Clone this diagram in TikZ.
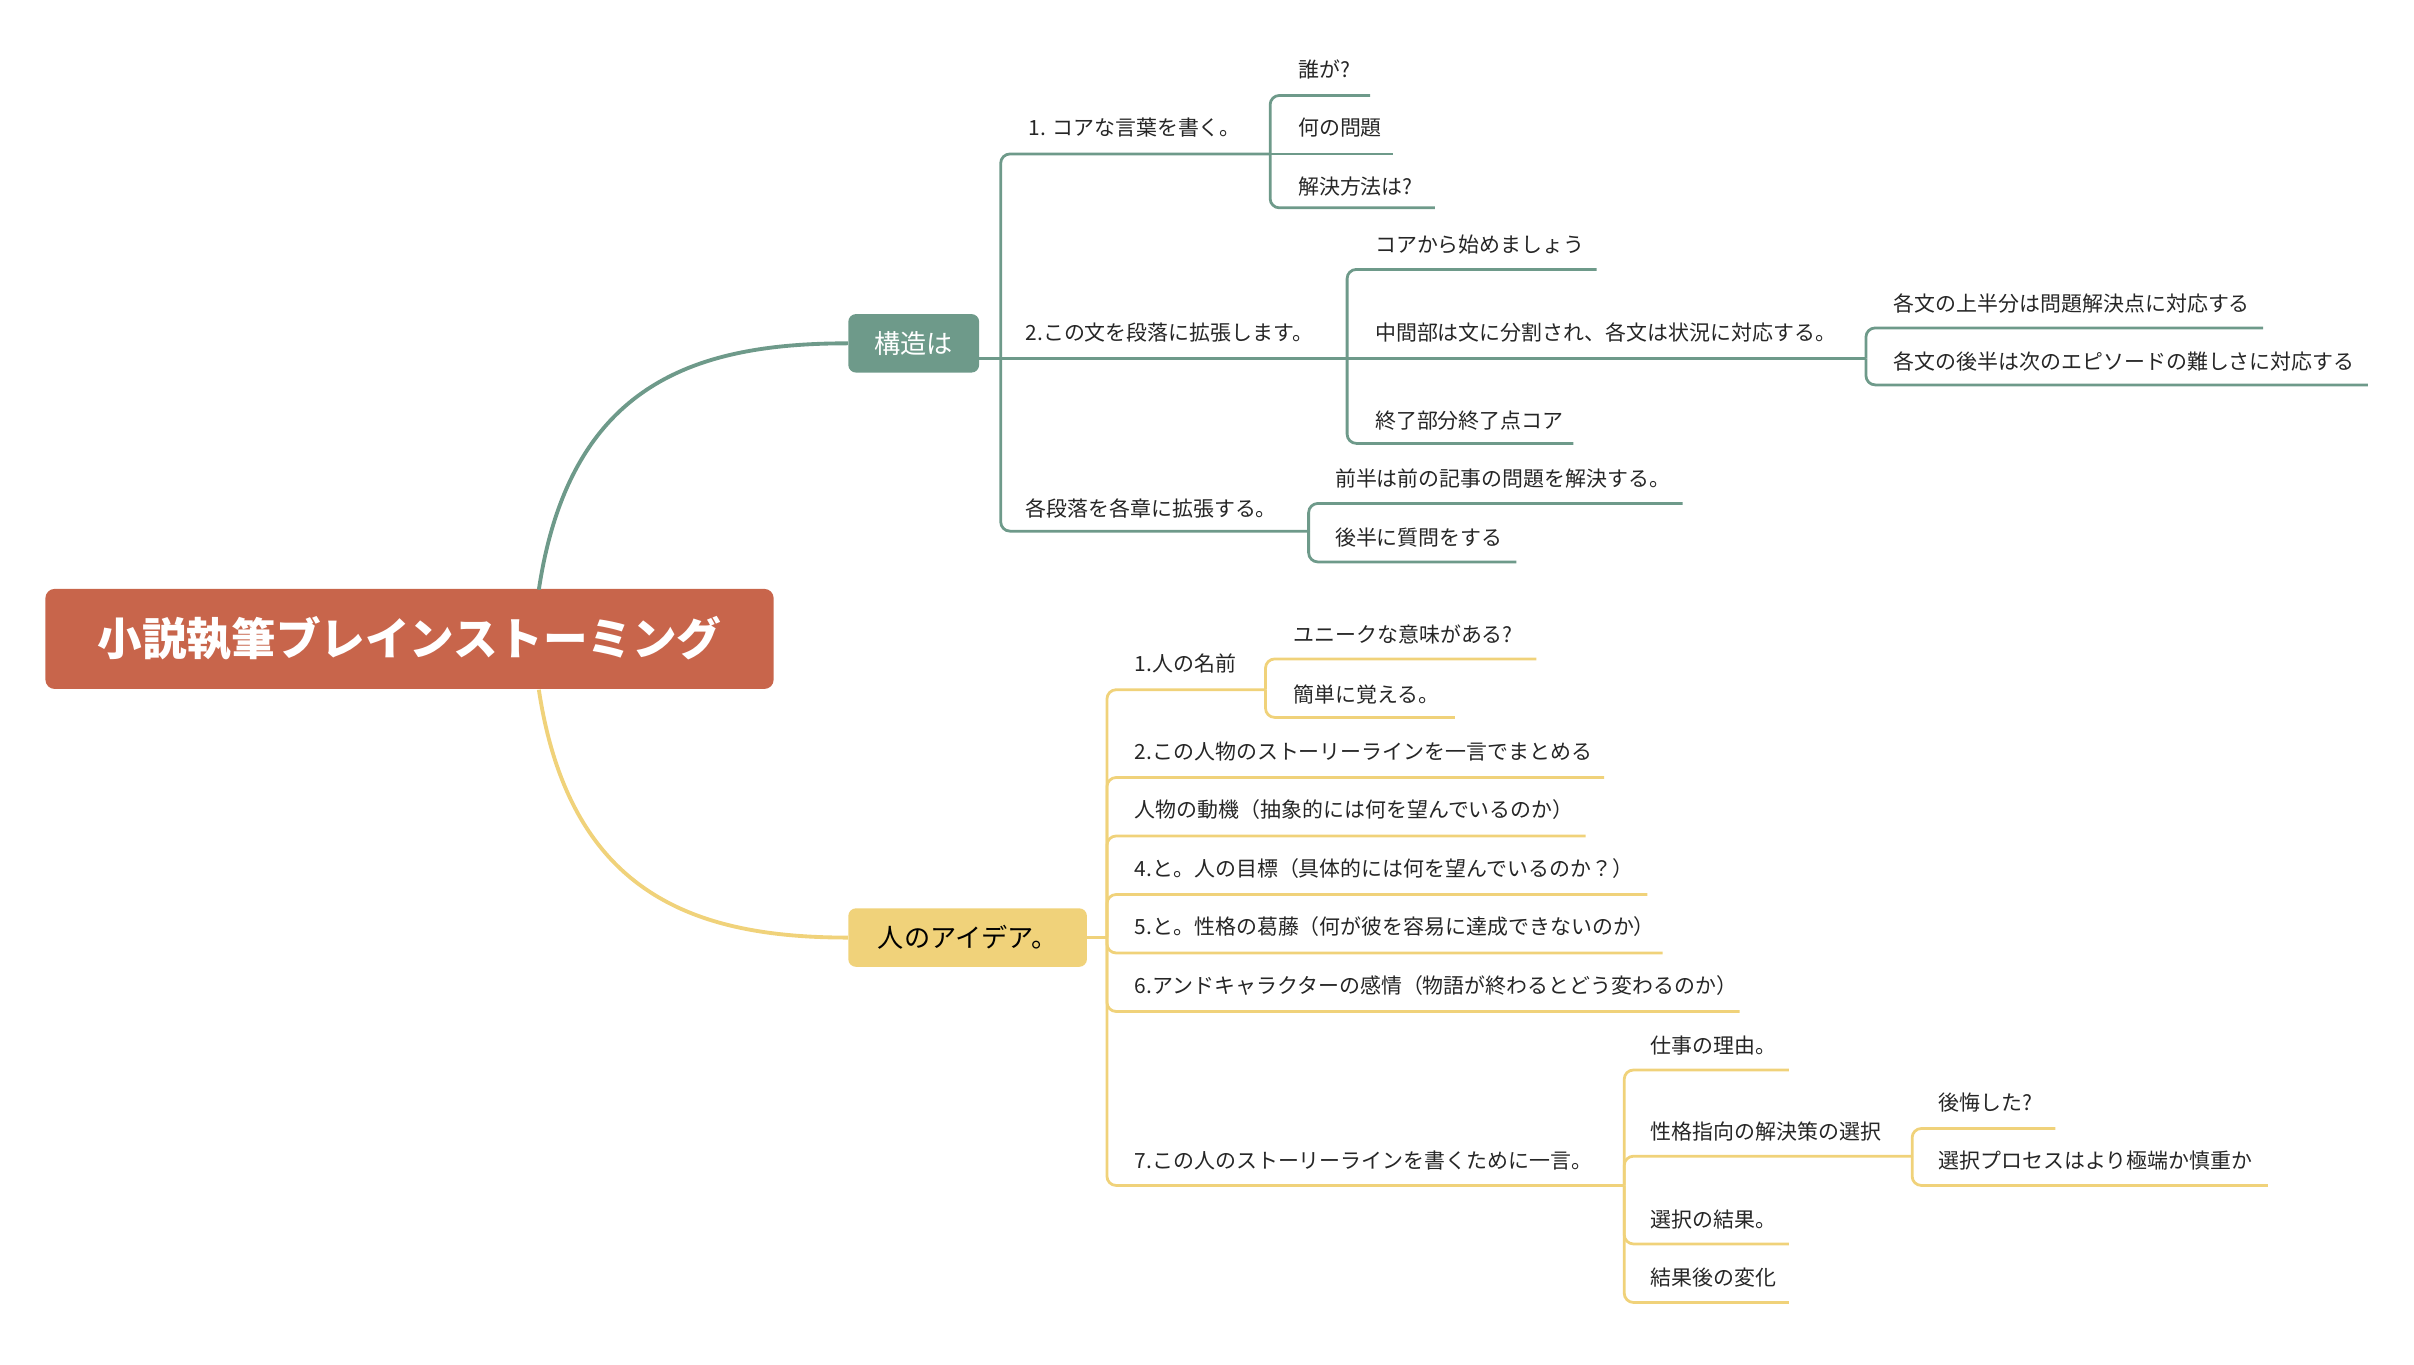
\documentclass[tikz,border=0pt]{standalone}
\usepackage{fontspec}
\setmainfont{Noto Sans CJK JP}
\begin{document}
\definecolor{rootc}{HTML}{C8654B}
\definecolor{grn}{HTML}{6E9A8A}
\definecolor{yel}{HTML}{F0D27A}
\begin{tikzpicture}[x=1pt,y=-1pt,
  t/.style={anchor=west,inner sep=0pt,font=\fontsize{13.6}{15}\selectfont,text=black!85},
  gl/.style={draw=grn,line width=1.8pt,rounded corners=6pt},
  yl/.style={draw=yel,line width=1.8pt,rounded corners=6pt}]
\useasboundingbox (0,0) rectangle (1568,886);
% root & branches
\node[fill=rootc,rounded corners=6pt,minimum width=473pt,minimum height=65pt,text=white,font=\bfseries\fontsize{29}{32}\selectfont] (root) at (266,415) {小説執筆ブレインストーミング};
\node[fill=grn,rounded corners=5pt,minimum width=85pt,minimum height=38pt,text=white,font=\fontsize{17}{19}\selectfont] (b1) at (593.5,223) {構造は};
\node[fill=yel,rounded corners=5pt,minimum width=155pt,minimum height=38pt,text=black,font=\fontsize{17}{19}\selectfont] (b2) at (628.5,609) {人のアイデア。};
\draw[grn,line width=2.5pt] (350,383) .. controls (370,250) and (450,223) .. (b1.west);
\draw[yel,line width=2.5pt] (350,448) .. controls (370,580) and (450,609) .. (b2.west);
% green branch
\coordinate (g0) at (636,233);
\draw[gl] (g0) -- (650,233);
\draw[gl] (650,233) -- (650,100) -- (825,100);
\draw[gl] (650,233) -- (875,233);
\draw[gl] (650,233) -- (650,345) -- (850,345);
\node[t] (g1) at (668,83) {1. コアな言葉を書く。};
\node[t] (g2) at (666,216) {2.この文を段落に拡張します。};
\node[t] (g3) at (666,330) {各段落を各章に拡張する。};
\draw[gl] (825,100) -- (825,62) -- (890,62);
\draw[gl] (825,100) -- (905,100);
\draw[gl] (825,100) -- (825,135) -- (932,135);
\node[t] (g11) at (843,45) {誰が?};
\node[t] (g12) at (843,83) {何の問題};
\node[t] (g13) at (843,121) {解決方法は?};
\draw[gl] (875,233) -- (875,175) -- (1037,175);
\draw[gl] (875,233) -- (1212,233);
\draw[gl] (875,233) -- (875,288) -- (1022,288);
\node[t] (g21) at (893,159) {コアから始めましょう};
\node[t] (g22) at (893,216) {中間部は文に分割され、各文は状況に対応する。};
\node[t] (g23) at (893,273) {終了部分終了点コア};
\draw[gl] (1212,233) -- (1212,213) -- (1470,213);
\draw[gl] (1212,233) -- (1212,250) -- (1538,250);
\node[t] (g221) at (1230,197) {各文の上半分は問題解決点に対応する};
\node[t] (g222) at (1230,235) {各文の後半は次のエピソードの難しさに対応する};
\draw[gl] (850,345) -- (850,327) -- (1093,327);
\draw[gl] (850,345) -- (850,365) -- (985,365);
\node[t] (g31) at (867,311) {前半は前の記事の問題を解決する。};
\node[t] (g32) at (867,349) {後半に質問をする};
% yellow branch
\draw[yl] (b2.east) -- (719,609);
\draw[yl] (719,609) -- (719,448) -- (822,448);
\foreach \y/\e in {505/1042,543/1030,581/1070,619/1080,657/1130}
  \draw[yl] (719,609) -- (719,\y) -- (\e,\y);
\draw[yl] (719,609) -- (719,770) -- (1055,770);
\node[t] (y1) at (737,431) {1.人の名前};
\node[t] (y2) at (737,488) {2.この人物のストーリーラインを一言でまとめる};
\node[t] (y3) at (737,526) {人物の動機（抽象的には何を望んでいるのか）};
\node[t] (y4) at (737,564) {4.と。人の目標（具体的には何を望んでいるのか？）};
\node[t] (y5) at (737,602) {5.と。性格の葛藤（何が彼を容易に達成できないのか）};
\node[t] (y6) at (737,640) {6.アンドキャラクターの感情（物語が終わるとどう変わるのか）};
\node[t] (y7) at (737,754) {7.この人のストーリーラインを書くために一言。};
\draw[yl] (822,448) -- (822,428) -- (998,428);
\draw[yl] (822,448) -- (822,466) -- (945,466);
\node[t] (y11) at (840,412) {ユニークな意味がある?};
\node[t] (y12) at (840,451) {簡単に覚える。};
\draw[yl] (1055,770) -- (1055,695) -- (1162,695);
\draw[yl] (1055,770) -- (1055,751) -- (1242,751);
\draw[yl] (1055,770) -- (1055,808) -- (1162,808);
\draw[yl] (1055,770) -- (1055,846) -- (1162,846);
\node[t] (y71) at (1072,679) {仕事の理由。};
\node[t] (y72) at (1072,735) {性格指向の解決策の選択};
\node[t] (y73) at (1072,792) {選択の結果。};
\node[t] (y74) at (1072,830) {結果後の変化};
\draw[yl] (1242,751) -- (1242,733) -- (1335,733);
\draw[yl] (1242,751) -- (1242,770) -- (1473,770);
\node[t] (y721) at (1259,716) {後悔した?};
\node[t] (y722) at (1259,754) {選択プロセスはより極端か慎重か};
\end{tikzpicture}
\end{document}
